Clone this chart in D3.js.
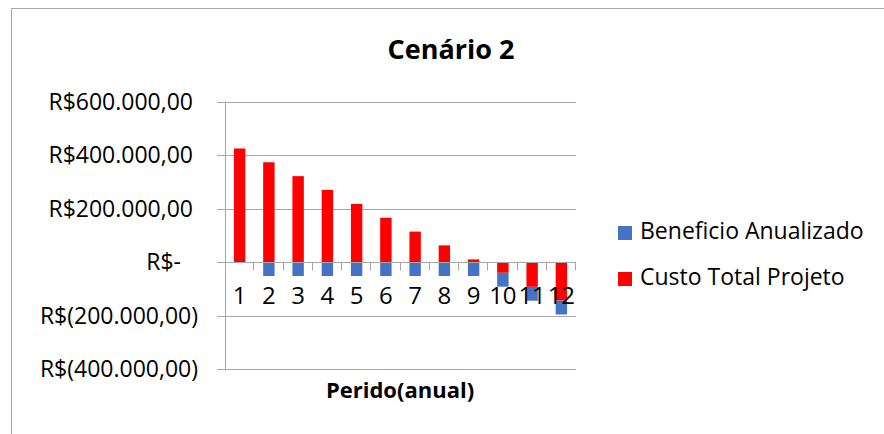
<!DOCTYPE html>
<html>
<head>
<meta charset="utf-8">
<script src="https://cdn.jsdelivr.net/npm/d3@7"></script>
<style>
  body { margin: 0; background: #fff; }
  svg text { font-family: "Open Sans", "Noto Sans", sans-serif; fill: #000; }
</style>
</head>
<body>
<div class="chart"></div>
<script>
var periodos = ['1','2','3','4','5','6','7','8','9','10','11','12']
var beneficio = [0, -52000, -52000, -52000, -52000, -52000, -52000, -52000, -52000, -52000, -52000, -52000]
var custo = [425000, 373500, 321500, 270000, 217500, 166000, 114000, 62500, 10000, -40000, -92500, -144000]
var yTicks = [-400000, -200000, 0, 200000, 400000, 600000]
var seriesNames = ['Beneficio Anualizado', 'Custo Total Projeto']
var seriesColors = ['#4472C4', '#FF0000']

var width = 884
var height = 434
var plotLeft = 225, plotRight = 576, plotTop = 101.7, plotBottom = 369
var gridColor = '#a6a6a6'

var svg = d3.select('.chart')
  .append('svg')
  .attr('width', width)
  .attr('height', height)

// outer chart border (only top and left are visible in the crop)
svg.append('line').attr('x1', 11.5).attr('x2', width).attr('y1', 8.5).attr('y2', 8.5)
  .attr('stroke', gridColor)
svg.append('line').attr('x1', 11.5).attr('x2', 11.5).attr('y1', 8.5).attr('y2', height)
  .attr('stroke', gridColor)

var x = d3.scaleBand()
  .domain(periodos)
  .range([plotLeft, plotRight])

var y = d3.scaleLinear()
  .domain([-400000, 600000])
  .range([plotBottom, plotTop])

// gridlines
svg.selectAll('.grid')
  .data(yTicks)
  .enter()
  .append('line')
  .attr('x1', plotLeft - 8)
  .attr('x2', plotRight)
  .attr('y1', d => Math.round(y(d)) + 0.5)
  .attr('y2', d => Math.round(y(d)) + 0.5)
  .attr('stroke', gridColor)

// y axis line
svg.append('line')
  .attr('x1', plotLeft + 0.5).attr('x2', plotLeft + 0.5)
  .attr('y1', Math.round(y(600000)) + 0.5).attr('y2', Math.round(y(-400000)) + 0.5)
  .attr('stroke', gridColor)

// y labels, accounting style
function fmt(v) {
  if (v === 0) return 'R$-'
  var s = d3.format(',.2f')(Math.abs(v)).replace(/,/g, 'X').replace('.', ',').replace(/X/g, '.')
  return v < 0 ? 'R$(' + s + ')' : 'R$' + s
}
svg.selectAll('.ylab')
  .data(yTicks)
  .enter()
  .append('text')
  .attr('x', d => d === 0 ? 181 : (d < 0 ? 198 : 193))
  .attr('y', d => y(d))
  .attr('dy', '0.36em')
  .attr('text-anchor', 'end')
  .style('font-size', '23px')
  .text(fmt)

// stacked bars
var rows = periodos.map((p, i) => ({ p: p, custo: custo[i], beneficio: beneficio[i] }))
var stack = d3.stack()
  .keys(['custo', 'beneficio'])
  .offset(d3.stackOffsetDiverging)(rows)

var barW = x.bandwidth() * 0.39
var colorOf = { custo: seriesColors[1], beneficio: seriesColors[0] }

svg.selectAll('.layer')
  .data(stack)
  .enter()
  .append('g')
  .attr('fill', d => colorOf[d.key])
  .selectAll('rect')
  .data(d => d)
  .enter()
  .append('rect')
  .attr('x', d => x(d.data.p) + (x.bandwidth() - barW) / 2)
  .attr('width', barW)
  .attr('y', d => y(Math.max(d[0], d[1])))
  .attr('height', d => Math.abs(y(d[0]) - y(d[1])))

// x axis (zero line) with ticks at category boundaries
var y0 = Math.round(y(0)) + 0.5
svg.append('line')
  .attr('x1', plotLeft).attr('x2', plotRight)
  .attr('y1', y0).attr('y2', y0)
  .attr('stroke', gridColor)
svg.selectAll('.xtick')
  .data(periodos)
  .enter()
  .append('line')
  .attr('x1', d => Math.round(x(d) + x.bandwidth()) - 0.5)
  .attr('x2', d => Math.round(x(d) + x.bandwidth()) - 0.5)
  .attr('y1', y0)
  .attr('y2', y0 + 8)
  .attr('stroke', gridColor)

// category labels
svg.selectAll('.xlab')
  .data(periodos)
  .enter()
  .append('text')
  .attr('x', d => x(d) + x.bandwidth() / 2)
  .attr('y', 304)
  .attr('text-anchor', 'middle')
  .style('font-size', '24px')
  .text(d => d)

// titles
svg.append('text')
  .attr('x', 451).attr('y', 59)
  .attr('text-anchor', 'middle')
  .style('font-size', '27px')
  .style('font-weight', 'bold')
  .text('Cenário 2')

svg.append('text')
  .attr('x', 400).attr('y', 398)
  .attr('text-anchor', 'middle')
  .style('font-size', '22px')
  .style('font-weight', 'bold')
  .text('Perido(anual)')

// legend
var legend = svg.selectAll('.legend')
  .data(seriesNames)
  .enter()
  .append('g')
  .attr('transform', (d, i) => 'translate(618,' + (226 + i * 46) + ')')
legend.append('rect')
  .attr('width', 14).attr('height', 14)
  .attr('fill', (d, i) => seriesColors[i])
legend.append('text')
  .attr('x', 22).attr('y', 13)
  .style('font-size', '23px')
  .text(d => d)
</script>
</body>
</html>
